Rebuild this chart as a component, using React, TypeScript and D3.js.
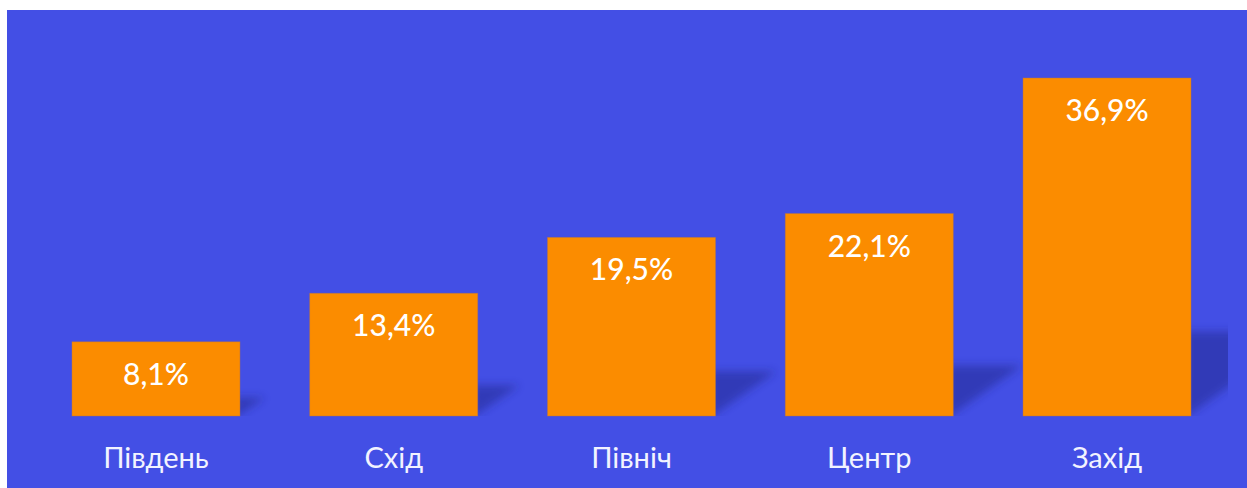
import React from "react";
import * as d3 from "d3";

const categories = ["Південь", "Схід", "Північ", "Центр", "Захід"];
const values = [8.1, 13.4, 19.5, 22.1, 36.9];
const valueLabels = ["8,1%", "13,4%", "19,5%", "22,1%", "36,9%"];

const W = 1247;
const H = 488;
const BG = "#434fe5";
const BAR = "#fb8c00";
const baseY = 416;

export default function App() {
  const x = d3
    .scaleBand<string>()
    .domain(categories)
    .range([37.1, 1225.9])
    .paddingInner(0.2934)
    .paddingOuter(0.1467);
  const y = d3.scaleLinear().domain([0, 36.9]).range([baseY, 78]);

  return (
    <svg
      width={W}
      height={H}
      style={{ position: "absolute", left: 0, top: 0, display: "block" }}
    >
      <defs>
        <filter id="blur" x="-50%" y="-50%" width="200%" height="200%">
          <feGaussianBlur stdDeviation="4.5" />
        </filter>
        <clipPath id="plotClip">
          <rect x={7} y={10} width={1221} height={406} />
        </clipPath>
      </defs>
      <rect x={7} y={10} width={W - 7} height={H - 10} fill={BG} />
      <g clipPath="url(#plotClip)">
        {values.map((v, i) => {
          const right = (x(categories[i]) as number) + x.bandwidth();
          const h = baseY - y(v);
          const kh = 0.25 * h;
          const w = 0.34 * h;
          const pts = [
            [right - 6, baseY + 2],
            [right + w, baseY - kh],
            [right - 6, baseY - kh],
          ]
            .map((p) => p.join(","))
            .join(" ");
          return (
            <polygon
              key={"s" + i}
              points={pts}
              fill="#1e2280"
              opacity={0.45}
              filter="url(#blur)"
            />
          );
        })}
      </g>
      {values.map((v, i) => {
        const bx = x(categories[i]) as number;
        return (
          <g key={"b" + i}>
            <rect
              x={bx}
              y={y(v)}
              width={x.bandwidth()}
              height={baseY - y(v)}
              fill={BAR}
              stroke="#b87444"
              strokeOpacity={0.55}
              strokeWidth={0.8}
            />
            <text
              x={bx + x.bandwidth() / 2}
              y={y(v) + 43}
              textAnchor="middle"
              fill="#ffffff"
              fontFamily="Lato, 'Open Sans', sans-serif"
              fontSize={30}
              fontWeight={500}
            >
              {valueLabels[i]}
            </text>
            <text
              x={bx + x.bandwidth() / 2}
              y={468}
              textAnchor="middle"
              fill="#f2f3ff"
              fontFamily="Lato, 'Open Sans', sans-serif"
              fontSize={29}
            >
              {categories[i]}
            </text>
          </g>
        );
      })}
    </svg>
  );
}
